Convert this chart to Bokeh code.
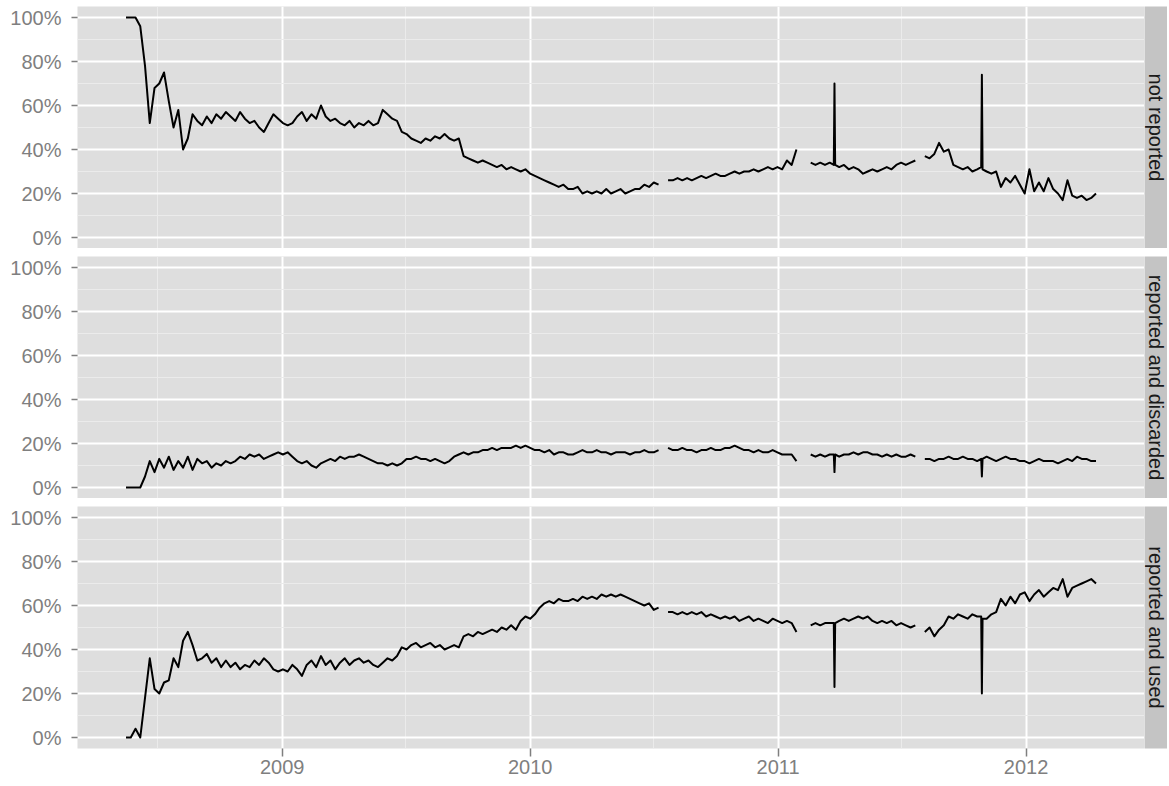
import math
import numpy as np
import pandas as pd
from bokeh.plotting import figure
from bokeh.layouts import column, row
from bokeh.models import ColumnDataSource, FixedTicker, Range1d, DatetimeTickFormatter, Label
from bokeh.embed import file_html
from bokeh.resources import INLINE

nan = float("nan")

# ---- data (percent of total), sampled weekly from 2008-05-16 ----
start_date = "2008-05-16"
n_weeks = 205

not_reported = [
    100, 100, 100, 96, 78, 52, 68, 70, 75, 62,
    50, 58, 40, 45, 56, 53, 51, 55, 52, 56,
    54, 57, 55, 53, 57, 54, 52, 53, 50, 48,
    52, 56, 54, 52, 51, 52, 55, 57, 53, 56,
    54, 60, 55, 53, 54, 52, 51, 53, 50, 52,
    51, 53, 51, 52, 58, 56, 54, 53, 48, 47,
    45, 44, 43, 45, 44, 46, 45, 47, 45, 44,
    45, 37, 36, 35, 34, 35, 34, 33, 32, 33,
    31, 32, 31, 30, 31, 29, 28, 27, 26, 25,
    24, 23, 24, 22, 22, 23, 20, 21, 20, 21,
    20, 22, 20, 21, 22, 20, 21, 22, 22, 24,
    23, 25, 24, nan, 26, 26, 27, 26, 27, 26,
    27, 28, 27, 28, 29, 28, 28, 29, 30, 29,
    30, 30, 31, 30, 31, 32, 31, 32, 31, 35,
    33, 40, nan, nan, 34, 33, 34, 33, 34, 33,
    32, 33, 31, 32, 31, 29, 30, 31, 30, 31,
    32, 31, 33, 34, 33, 34, 35, nan, 37, 36,
    38, 43, 39, 40, 33, 32, 31, 32, 30, 31,
    37, 30, 29, 30, 23, 27, 25, 28, 24, 20,
    31, 21, 25, 21, 27, 22, 20, 17, 26, 19,
    18, 19, 17, 18, 20,
]

reported_discarded = [
    0, 0, 0, 0, 5, 12, 7, 13, 9, 14,
    8, 12, 9, 14, 8, 13, 11, 12, 9, 11,
    10, 12, 11, 12, 14, 13, 15, 14, 15, 13,
    14, 15, 16, 15, 16, 14, 12, 11, 12, 10,
    9, 11, 12, 13, 12, 14, 13, 14, 14, 15,
    14, 13, 12, 11, 11, 10, 11, 10, 11, 13,
    13, 14, 13, 13, 12, 13, 12, 11, 12, 14,
    15, 16, 15, 16, 16, 17, 17, 18, 17, 18,
    18, 18, 19, 18, 19, 18, 17, 17, 16, 17,
    15, 16, 16, 15, 15, 16, 17, 16, 16, 17,
    16, 16, 15, 16, 16, 16, 15, 16, 16, 17,
    16, 16, 17, nan, 18, 17, 17, 18, 17, 17,
    16, 17, 17, 18, 17, 17, 18, 18, 19, 18,
    17, 17, 16, 17, 16, 16, 17, 16, 15, 15,
    15, 12, nan, nan, 15, 14, 15, 14, 15, 15,
    14, 15, 15, 16, 15, 16, 16, 15, 15, 14,
    15, 14, 15, 14, 14, 15, 14, nan, 13, 13,
    12, 13, 13, 14, 13, 13, 14, 13, 13, 12,
    13, 14, 13, 12, 13, 14, 13, 13, 12, 12,
    11, 12, 13, 12, 12, 12, 11, 12, 13, 12,
    14, 13, 13, 12, 12,
]

reported_used = [
    0, 0, 4, 0, 18, 36, 22, 20, 25, 26,
    36, 32, 44, 48, 42, 35, 36, 38, 34, 36,
    32, 35, 32, 34, 31, 33, 32, 35, 33, 36,
    34, 31, 30, 31, 30, 33, 31, 28, 33, 35,
    32, 37, 33, 35, 31, 34, 36, 33, 35, 36,
    34, 35, 33, 32, 34, 36, 35, 37, 41, 40,
    42, 43, 41, 42, 43, 41, 42, 40, 41, 42,
    41, 46, 47, 46, 48, 47, 48, 49, 48, 50,
    49, 51, 49, 53, 55, 54, 56, 59, 61, 62,
    61, 63, 62, 62, 63, 62, 64, 63, 64, 63,
    65, 64, 65, 64, 65, 64, 63, 62, 61, 60,
    61, 58, 59, nan, 57, 57, 56, 57, 56, 57,
    56, 57, 55, 56, 55, 54, 55, 54, 55, 53,
    54, 55, 53, 54, 53, 52, 54, 53, 52, 53,
    52, 48, nan, nan, 51, 52, 51, 52, 52, 51,
    53, 54, 53, 54, 55, 54, 55, 53, 52, 53,
    52, 53, 51, 52, 51, 50, 51, nan, 48, 50,
    46, 49, 51, 55, 54, 56, 55, 54, 56, 55,
    52, 54, 56, 57, 63, 60, 64, 61, 65, 66,
    62, 65, 67, 64, 66, 68, 67, 72, 64, 68,
    69, 70, 71, 72, 70,
]

# single-day outliers (with the days around them)
event_dates = ["2011-03-24", "2011-03-25", "2011-03-26", "2011-10-27", "2011-10-28", "2011-10-29"]
event_not_reported = [33, 70, 33, 32, 74, 31]
event_discarded = [15, 7, 15, 13, 5, 13]
event_used = [52, 23, 52, 55, 20, 54]

facet_labels = ["not reported", "reported and discarded", "reported and used"]
facet_cols = ["not_reported", "reported_discarded", "reported_used"]
y_ticks = [0, 20, 40, 60, 80, 100]
y_minor = [10, 30, 50, 70, 90]
year_ticks = ["2009-01-01", "2010-01-01", "2011-01-01", "2012-01-01"]
half_ticks = ["2008-07-01", "2009-07-01", "2010-07-01", "2011-07-01"]

# ---- build table ----
weekly = pd.DataFrame({
    "date": pd.date_range(start_date, periods=n_weeks, freq="7D"),
    "not_reported": not_reported,
    "reported_discarded": reported_discarded,
    "reported_used": reported_used,
})
events = pd.DataFrame({
    "date": pd.to_datetime(event_dates),
    "not_reported": event_not_reported,
    "reported_discarded": event_discarded,
    "reported_used": event_used,
})
df = pd.concat([weekly[~weekly["date"].isin(events["date"])], events]).sort_values("date").reset_index(drop=True)
source = ColumnDataSource(df)

dmin, dmax = df["date"].min(), df["date"].max()
pad = (dmax - dmin) * 0.05
x_range = Range1d(start=dmin - pad, end=dmax + pad)

def ms(s):
    return pd.Timestamp(s).value // 10**6

x_ticker = FixedTicker(ticks=[ms(t) for t in year_ticks], minor_ticks=[ms(t) for t in half_ticks])

PANEL_BG = "#DEDEDE"
STRIP_BG = "#C4C4C4"
MINOR = "#EBEBEB"
GREY = "#7F7F7F"
FONT = "Liberation Sans"
FH = 242
FW = 1067
LEFT = 77
STRIP_W = 23
BOTTOM = 34
TOP = 6

rows = []
for i, (col, lab) in enumerate(zip(facet_cols, facet_labels)):
    first = i == 0
    last = i == len(facet_cols) - 1
    top = TOP if first else 0
    bottom = BOTTOM if last else 0
    p = figure(x_axis_type="datetime", x_range=x_range, y_range=Range1d(-5, 105),
               frame_width=FW, frame_height=FH, toolbar_location=None, output_backend="svg",
               min_border_left=LEFT, min_border_right=0, min_border_top=top,
               min_border_bottom=bottom)
    p.background_fill_color = PANEL_BG
    p.border_fill_color = "white"
    p.outline_line_color = None

    p.xaxis.ticker = x_ticker
    p.xgrid.ticker = x_ticker
    p.xaxis.formatter = DatetimeTickFormatter(years="%Y", months="%Y", days="%Y")
    p.yaxis.ticker = FixedTicker(ticks=y_ticks, minor_ticks=y_minor)
    p.ygrid.ticker = FixedTicker(ticks=y_ticks, minor_ticks=y_minor)
    p.yaxis.major_label_overrides = {t: f"{t}%" for t in y_ticks}

    for g in (p.xgrid, p.ygrid):
        g.grid_line_color = "white"
        g.grid_line_width = 2
        g.minor_grid_line_color = MINOR
        g.minor_grid_line_width = 1

    for ax in (p.xaxis, p.yaxis):
        ax.axis_line_color = None
        ax.major_tick_line_color = GREY
        ax.major_tick_line_width = 1.5
        ax.major_tick_in = 0
        ax.minor_tick_line_color = None
        ax.major_label_text_color = GREY
        ax.major_label_text_font = FONT
        ax.major_label_text_font_size = "20px"
    p.yaxis.major_tick_out = 6
    p.yaxis.major_label_standoff = 10
    p.xaxis.major_tick_out = 8
    p.xaxis.major_label_standoff = 3
    if not last:
        p.xaxis.visible = False

    p.line(x="date", y=col, source=source, line_color="black", line_width=2, line_join="round")

    s = figure(x_range=Range1d(0, 1), y_range=Range1d(0, 1), frame_width=STRIP_W, frame_height=FH,
               toolbar_location=None, output_backend="svg", x_axis_location=None, y_axis_location=None,
               min_border_left=0, min_border_right=0, min_border_top=top,
               min_border_bottom=bottom)
    s.background_fill_color = STRIP_BG
    s.border_fill_color = "white"
    s.outline_line_color = None
    s.xgrid.visible = False
    s.ygrid.visible = False
    s.add_layout(Label(x=0.5, y=0.5, text=lab, angle=-math.pi / 2, text_align="center",
                       text_baseline="middle", text_font=FONT, text_font_size="20px",
                       text_color="#1A1A1A"))
    rows.append(row(p, s, spacing=0))

layout = column(*rows, spacing=8)

open("out.html", "w").write(file_html(layout, INLINE))
